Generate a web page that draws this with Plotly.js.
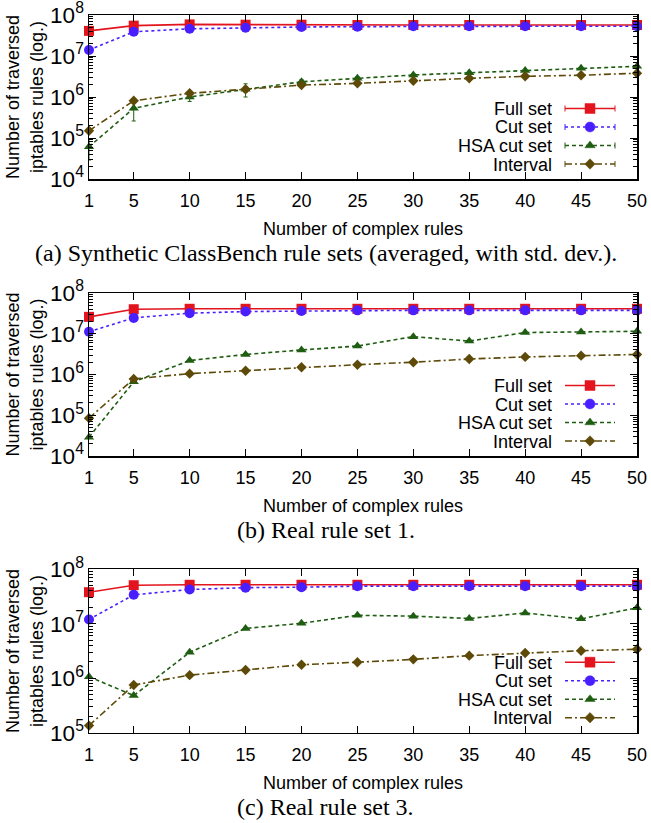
<!DOCTYPE html>
<html>
<head>
<meta charset="utf-8">
<script src="https://cdn.plot.ly/plotly-3.0.1.min.js"></script>
<style>html,body{margin:0;padding:0;background:#fff;}#chart{width:651px;height:823px;}</style>
</head>
<body>
<div id="chart"></div>
<script>
// x categories: number of complex rules
const complexRules = [1, 5, 10, 15, 20, 25, 30, 35, 40, 45, 50];
const seriesNames = ["Full set", "Cut set", "HSA cut set", "Interval"];
const xTitle = "Number of complex rules";
const yTitle = "Number of traversed<br>iptables rules (log.)";
const captions = ["(a) Synthetic ClassBench rule sets (averaged, with std. dev.).", "(b) Real rule set 1.", "(c) Real rule set 3."];

// (a) Synthetic ClassBench (averaged, with std. dev.)
const fullA = [4.1e7, 5.5e7, 5.9e7, 5.8e7, 5.8e7, 5.7e7, 5.7e7, 5.7e7, 5.7e7, 5.7e7, 5.7e7];
const cutA  = [1.4e7, 3.9e7, 4.6e7, 4.9e7, 5.1e7, 5.2e7, 5.3e7, 5.3e7, 5.3e7, 5.3e7, 5.3e7];
const hsaA  = [6.1e4, 5.3e5, 1.0e6, 1.55e6, 2.35e6, 2.85e6, 3.45e6, 3.9e6, 4.45e6, 5.0e6, 5.6e6];
const intA  = [1.5e5, 8.1e5, 1.23e6, 1.55e6, 1.95e6, 2.15e6, 2.5e6, 2.85e6, 3.2e6, 3.4e6, 3.8e6];
const fullErrA = [1.5e6, 1.5e6, 1.0e6, 1.0e6, 1.0e6, 1.0e6, 1.0e6, 1.0e6, 1.0e6, 1.0e6, 1.0e6];
const cutErrA  = [1.5e6, 2.0e6, 1.5e6, 1.0e6, 1.0e6, 1.0e6, 1.0e6, 1.0e6, 1.0e6, 1.0e6, 1.0e6];
const hsaErrA  = [3.2e4, 2.7e5, 2.2e5, 5.5e5, 3.0e5, 3.0e5, 2.5e5, 2.5e5, 2.0e5, 2.0e5, 2.0e5];
const intErrA  = [2.0e4, 6.0e4, 1.0e5, 2.5e5, 1.0e5, 1.0e5, 1.0e5, 1.0e5, 1.0e5, 1.0e5, 1.0e5];

// (b) Real rule set 1
const fullB = [2.6e7, 4.0e7, 4.1e7, 4.1e7, 4.1e7, 4.1e7, 4.1e7, 4.1e7, 4.1e7, 4.1e7, 4.1e7];
const cutB  = [1.12e7, 2.45e7, 3.2e7, 3.5e7, 3.6e7, 3.75e7, 3.75e7, 3.75e7, 3.75e7, 3.75e7, 3.75e7];
const hsaB  = [2.9e4, 6.6e5, 2.2e6, 3.1e6, 4.0e6, 5.0e6, 8.5e6, 6.6e6, 1.07e7, 1.1e7, 1.15e7];
const intB  = [8.5e4, 7.8e5, 1.05e6, 1.24e6, 1.5e6, 1.74e6, 2.0e6, 2.4e6, 2.7e6, 2.9e6, 3.1e6];

// (c) Real rule set 3
const fullC = [3.8e7, 5.1e7, 5.2e7, 5.2e7, 5.2e7, 5.2e7, 5.2e7, 5.2e7, 5.2e7, 5.2e7, 5.2e7];
const cutC  = [1.2e7, 3.4e7, 4.25e7, 4.6e7, 4.7e7, 4.9e7, 4.9e7, 4.9e7, 4.9e7, 4.9e7, 4.9e7];
const hsaC  = [1.07e6, 4.8e5, 3.0e6, 8.2e6, 1.02e7, 1.43e7, 1.38e7, 1.25e7, 1.58e7, 1.23e7, 1.96e7];
const intC  = [1.35e5, 7.5e5, 1.14e6, 1.42e6, 1.77e6, 1.97e6, 2.22e6, 2.6e6, 2.9e6, 3.2e6, 3.4e6];

const styles = [
  {color: "#e3141e", dash: "solid", symbol: "square", size: 10},
  {color: "#4a1fff", dash: "dot", symbol: "circle", size: 10},
  {color: "#1f5e12", dash: "4px,3px", symbol: "triangle-up", size: 9},
  {color: "#5e4a08", dash: "7px,3px,2px,3px", symbol: "diamond", size: 8}
];

function mk(ys, i, panel, err) {
  const s = styles[i];
  const t = {
    x: complexRules, y: ys, name: seriesNames[i], type: "scatter", mode: "lines+markers",
    xaxis: panel === 1 ? "x" : "x" + panel, yaxis: panel === 1 ? "y" : "y" + panel,
    showlegend: false,
    line: {color: s.color, width: 1.6, dash: s.dash},
    marker: {color: s.color, symbol: s.symbol, size: s.size},
    cliponaxis: false
  };
  if (err) t.error_y = {type: "data", array: err, color: s.color, thickness: 1, width: 2};
  return t;
}

const data = [
  mk(fullA, 0, 1, fullErrA), mk(cutA, 1, 1, cutErrA), mk(hsaA, 2, 1, hsaErrA), mk(intA, 3, 1, intErrA),
  mk(fullB, 0, 2), mk(cutB, 1, 2), mk(hsaB, 2, 2), mk(intB, 3, 2),
  mk(fullC, 0, 3), mk(cutC, 1, 3), mk(hsaC, 2, 3), mk(intC, 3, 3)
];

const W = 651, H = 823, ML = 89, MR = 14;
const PW = W - ML - MR;
const px = v => (v - ML) / PW;       // pixel x -> paper x
const py = v => 1 - v / H;           // pixel y -> paper y

const font = {family: "Liberation Sans, Arial, sans-serif", size: 18, color: "#000"};
const serif = {family: "Liberation Serif, Times New Roman, serif", size: 24, color: "#000"};
function xax(anchor) {
  return {
    anchor: anchor, domain: [0, 1], range: [1, 50], tickvals: complexRules,
    ticks: "inside", ticklen: 7, tickcolor: "#000", mirror: "allticks",
    showline: true, linecolor: "#000", linewidth: 1.5, showgrid: false, zeroline: false,
    tickfont: font, automargin: false, ticklabelstandoff: 5,
    title: {text: xTitle, font: font, standoff: 12}
  };
}
function yax(anchor, top, bottom, lo, hi) {
  return {
    anchor: anchor, type: "log", domain: [py(bottom), py(top)], range: [lo, hi],
    tickmode: "linear", tick0: 0, dtick: 1, exponentformat: "power",
    ticks: "inside", ticklen: 7, tickcolor: "#000", mirror: "allticks",
    minor: {dtick: "D1", ticks: "inside", ticklen: 4, tickcolor: "#000", showgrid: false},
    showline: true, linecolor: "#000", linewidth: 1.5, showgrid: false, zeroline: false,
    tickfont: font, automargin: false, ticklabeloverflow: "allow",
    title: {text: yTitle, font: font, standoff: 2}
  };
}

// gnuplot-style key: text right-aligned, sample line + marker on its right
const panelBottoms = [179, 456, 732.7];
const keyRowOffsets = [70.5, 52, 33.5, 15];
const keyTextRight = 553, keyLineL = 565, keyLineR = 615, keyMark = 590;
const annotations = [];
const shapes = [];
panelBottoms.forEach((pb, p) => {
  keyRowOffsets.forEach((off, i) => {
    const s = styles[i];
    const yy = pb - off;
    annotations.push({text: seriesNames[i], x: px(keyTextRight), y: py(yy), xref: "paper", yref: "paper",
      xanchor: "right", yanchor: "middle", showarrow: false, font: font, height: 17, borderpad: 0, valign: "middle"});
    shapes.push({type: "line", xref: "paper", yref: "paper", x0: px(keyLineL), x1: px(keyLineR), y0: py(yy), y1: py(yy),
      line: {color: s.color, width: 1.6, dash: s.dash}});
    if (p === 0) {
      [keyLineL, keyLineR].forEach(cx => shapes.push({type: "line", xref: "paper", yref: "paper",
        x0: px(cx), x1: px(cx), y0: py(yy - 3), y1: py(yy + 3), line: {color: s.color, width: 1}}));
    }
    const r = s.size / 2;
    const fill = {fillcolor: s.color, line: {color: s.color, width: 0.5}, xref: "paper", yref: "paper"};
    if (s.symbol === "square") {
      shapes.push(Object.assign({type: "rect", x0: px(keyMark - r), x1: px(keyMark + r), y0: py(yy + r), y1: py(yy - r)}, fill));
    } else if (s.symbol === "circle") {
      shapes.push(Object.assign({type: "circle", x0: px(keyMark - r), x1: px(keyMark + r), y0: py(yy + r), y1: py(yy - r)}, fill));
    } else if (s.symbol === "triangle-up") {
      const rt = r * 1.155, rs = r / 2;
      shapes.push(Object.assign({type: "path", path: `M${px(keyMark - rt)},${py(yy + rs)} L${px(keyMark + rt)},${py(yy + rs)} L${px(keyMark)},${py(yy - r)} Z`}, fill));
    } else {
      const rd = r * 1.3;
      shapes.push(Object.assign({type: "path", path: `M${px(keyMark - rd)},${py(yy)} L${px(keyMark)},${py(yy - rd)} L${px(keyMark + rd)},${py(yy)} L${px(keyMark)},${py(yy + rd)} Z`}, fill));
    }
  });
});
const captionY = [253, 530, 807];
captions.forEach((c, i) => annotations.push({text: c, x: px(W / 2), y: py(captionY[i]), xref: "paper", yref: "paper",
  xanchor: "center", yanchor: "middle", showarrow: false, font: serif}));

const layout = {
  width: W, height: H,
  margin: {l: ML, r: MR, t: 0, b: 0},
  paper_bgcolor: "#fff", plot_bgcolor: "#fff",
  font: font, showlegend: false,
  xaxis: xax("y"), xaxis2: xax("y2"), xaxis3: xax("y3"),
  yaxis: yax("x", 15, 179, 4, 8),
  yaxis2: yax("x2", 293, 456, 4, 8),
  yaxis3: yax("x3", 569.3, 732.7, 5, 8),
  annotations: annotations,
  shapes: shapes
};

Plotly.newPlot("chart", data, layout, {displayModeBar: false, staticPlot: true});
</script>
</body>
</html>
